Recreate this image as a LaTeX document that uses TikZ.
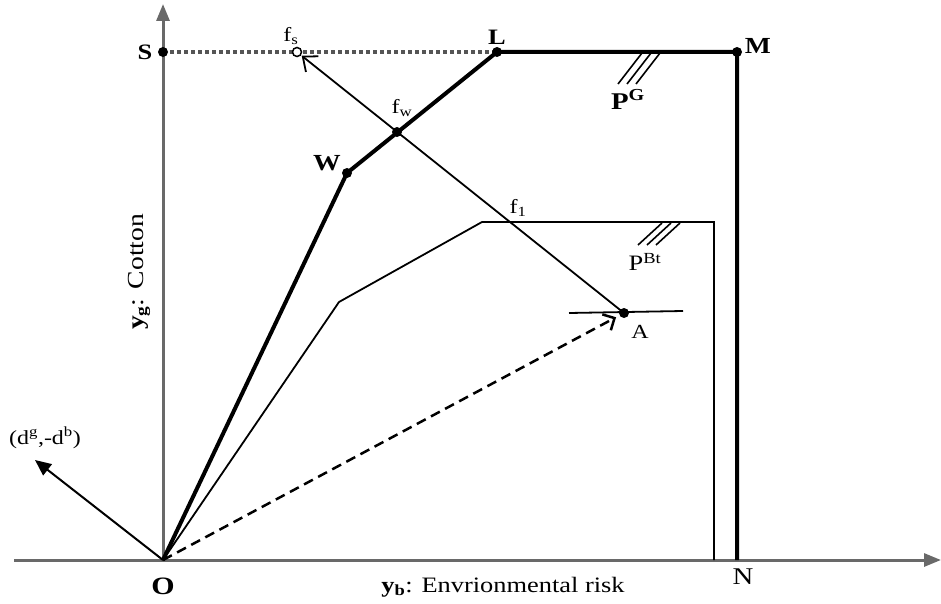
\documentclass[tikz,border=0pt]{standalone}
\usepackage{fontspec}
\setmainfont{Liberation Serif}[FakeStretch=1.2]
\usetikzlibrary{arrows.meta,calc}
\definecolor{axisgray}{RGB}{105,105,105}
\definecolor{dotgray}{RGB}{85,85,85}
\begin{document}
\begin{tikzpicture}[x=1pt,y=-1pt,
  axis/.style={axisgray,line width=3pt,-{Triangle[length=17pt,width=13pt]}},
  thickline/.style={black,line width=4pt,line join=miter},
  thinline/.style={black,line width=1.8pt},
  dot/.style={circle,fill=black,inner sep=0pt,minimum size=10pt},
  opendot/.style={circle,draw=black,fill=white,line width=1.5pt,inner sep=0pt,minimum size=9pt},
  lbl/.style={font=\fontsize{20}{24}\selectfont,inner sep=0pt},
  blbl/.style={font=\fontsize{22}{26}\selectfont\bfseries,inner sep=0pt},
  hatch/.style={black,line width=1.6pt}]
\useasboundingbox (0,0) rectangle (941,604);
% coordinates
\coordinate (O) at (163,560);
\coordinate (Ytop) at (163,4);
\coordinate (Xs) at (14,560);
\coordinate (Xe) at (941,560);
\coordinate (W) at (347,173);
\coordinate (fw) at (397,132);
\coordinate (L) at (497,52);
\coordinate (M) at (737,52);
\coordinate (N) at (737,560);
\coordinate (S) at (163,52);
\coordinate (fs) at (297,52);
\coordinate (A) at (624,313);
\coordinate (B1) at (339,302);
\coordinate (B2) at (482,222);
\coordinate (B3) at (714,222);
\coordinate (B4) at (714,560);
\coordinate (Al) at (569,313);
\coordinate (Ar) at (683,311);
\coordinate (D) at (35,460);
% axes
\draw[axis] (O) -- (Ytop);
\draw[axis] (Xs) -- (Xe);
% dotted line S-L
\draw[dotgray,line width=3.5pt,dash pattern=on 4pt off 3pt] (S) -- (L);
% thin frontier
\draw[thinline] (O) -- (B1) -- (B2) -- (B3) -- (B4);
% thick frontier
\draw[thickline] (O) -- (W) -- (L) -- (M) -- (N);
% price line through A
\draw[thinline] (Al) -- (Ar);
% arrow A -> fs
\draw[thinline,shorten >=6pt,-{Straight Barb[length=12pt,width=20pt,line width=1.8pt]}] (A) -- (fs);
% dashed O -> A
\draw[black,line width=2.5pt,dash pattern=on 10pt off 6pt,shorten >=9pt,-{Straight Barb[length=9pt,width=18pt,line width=2.5pt]}] (O) -- (A);
% direction arrow
\draw[black,line width=2pt,-{Triangle[length=16pt,width=14pt]}] (O) -- (D);
% hatches
\foreach \d in {0,9,18} {
  \draw[hatch] ($(618,84)+(\d,0)$) -- ($(642,53)+(\d,0)$);
  \draw[hatch] ($(638,245)+(\d,0)$) -- ($(662,223)+(\d,0)$);
}
% dots
\node[dot] (nS) at (S) {};
\node[dot] (nL) at (L) {};
\node[dot] (nM) at (M) {};
\node[dot] (nW) at (W) {};
\node[dot] (nfw) at (fw) {};
\node[dot] (nA) at (A) {};
\node[opendot] (nfs) at (fs) {};
% labels
\node[blbl] (tS) at (145,52) {S};
\node[blbl] (tL) at (497,37) {L};
\node[blbl,font=\fontsize{23}{26}\selectfont\bfseries] (tM) at (758,46) {M};
\node[blbl,font=\fontsize{23}{26}\selectfont\bfseries] (tW) at (327,163) {W};
\node[blbl,font=\fontsize{25}{28}\selectfont\bfseries] (tO) at (163,586) {O};
\node[lbl,font=\fontsize{24}{28}\selectfont] (tN) at (743,577) {N};
\node[lbl] (tfs) at (291,36) {f\textsubscript{s}};
\node[lbl] (tfw) at (402,108) {f\textsubscript{w}};
\node[lbl] (tf1) at (518,208) {f\textsubscript{1}};
\node[lbl] (tA) at (640,332) {A};
\node[blbl,font=\fontsize{24}{28}\selectfont\bfseries] (tPG) at (628,99) {P\textsuperscript{G}};
\node[lbl,font=\fontsize{22}{26}\selectfont] (tPB) at (645,262) {P\textsuperscript{Bt}};
\node[lbl] (tD) at (45,438) {(d\textsuperscript{g},-d\textsuperscript{b})};
\node[lbl,font=\fontsize{22}{26}\selectfont,anchor=base] (tyb) at (503,592) {\textbf{y\textsubscript{b}}: Envrionmental risk};
\node[lbl,font=\fontsize{23}{26}\selectfont,anchor=base,rotate=90] (tyg) at (143,272) {\textbf{y\textsubscript{g}}: Cotton};
\end{tikzpicture}
\end{document}
